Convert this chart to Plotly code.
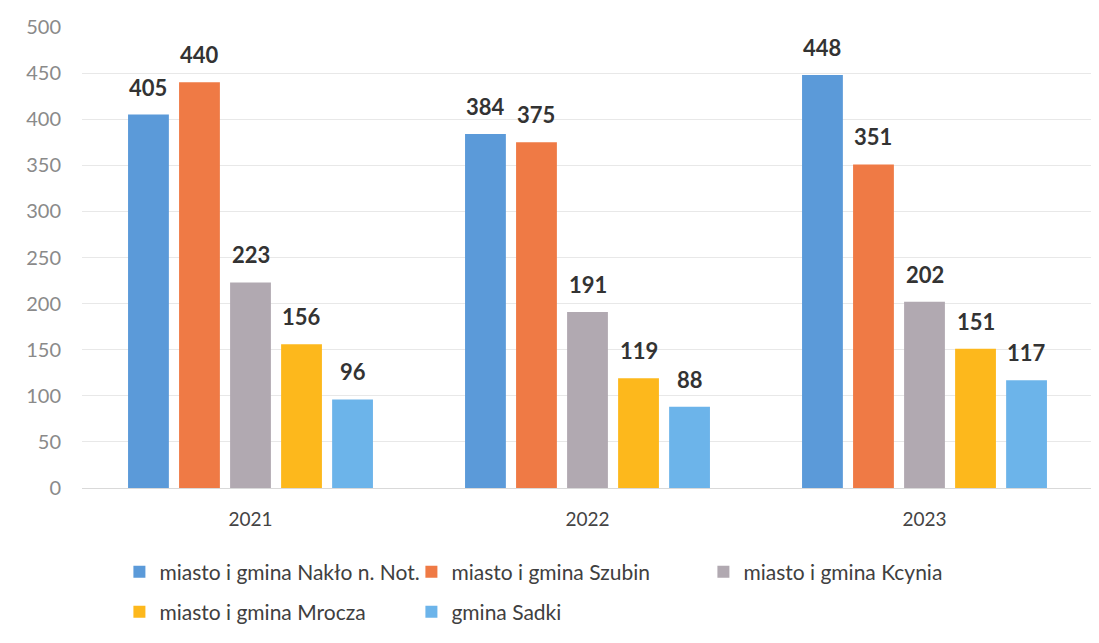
import plotly.graph_objects as go

years = ["2021", "2022", "2023"]
series_names = [
    "miasto i gmina Nakło n. Not.",
    "miasto i gmina Szubin",
    "miasto i gmina Kcynia",
    "miasto i gmina Mrocza",
    "gmina Sadki",
]
nakl = [405, 384, 448]
szubin = [440, 375, 351]
kcynia = [223, 191, 202]
mrocza = [156, 119, 151]
sadki = [96, 88, 117]
values = [nakl, szubin, kcynia, mrocza, sadki]
colors = ["#5b9ad9", "#ef7a45", "#b1a9b1", "#fdb81c", "#6cb4ea"]

FONT = "Lato, Open Sans, sans-serif"
BARGAP = 0.243
n = len(series_names)
slot = (1 - BARGAP) / n

fig = go.Figure()
annotations = []
for i, (name, vals, col) in enumerate(zip(series_names, values, colors)):
    fig.add_trace(go.Bar(
        x=years, y=vals, name=name,
        marker=dict(color=col, line=dict(width=0)),
        legend="legend" if i < 3 else "legend2",
    ))
    for k, v in enumerate(vals):
        annotations.append(dict(
            x=k + (i - (n - 1) / 2) * slot, y=v, xref="x", yref="y",
            text=f"<b>{v}</b>", showarrow=False, yanchor="bottom", yshift=12,
            font=dict(family=FONT, size=22, color="#333333"),
        ))

legend_common = dict(
    orientation="h", xanchor="left", yanchor="middle", yref="container",
    entrywidth=247, entrywidthmode="pixels",
    font=dict(family=FONT, size=21, color="#404040"), itemwidth=30,
    traceorder="normal", bgcolor="rgba(0,0,0,0)",
)

fig.update_layout(
    width=1091, height=627,
    paper_bgcolor="white", plot_bgcolor="white",
    barmode="group", bargap=BARGAP, bargroupgap=0.2,
    margin=dict(l=74, r=6, t=16, b=147),
    font=dict(family=FONT, color="#555555"),
    showlegend=True,
    legend=dict(x=0.037, y=0.1005, **legend_common),
    legend2=dict(x=0.037, y=0.0367, **legend_common),
    annotations=annotations,
)
fig.update_xaxes(
    showgrid=False, showline=True, linecolor="#d9d9d9", linewidth=1,
    tickfont=dict(family=FONT, size=19, color="#444444"), ticks="",
    ticklabelstandoff=14,
)
fig.update_yaxes(
    range=[0, 500], dtick=50, showgrid=True, gridcolor="#e8e8e8", gridwidth=1,
    zeroline=False, showline=False, ticks="", ticklabelstandoff=20,
    tickfont=dict(family=FONT, size=20, color="#8a8a8a"),
)
fig.write_html("out.html")
